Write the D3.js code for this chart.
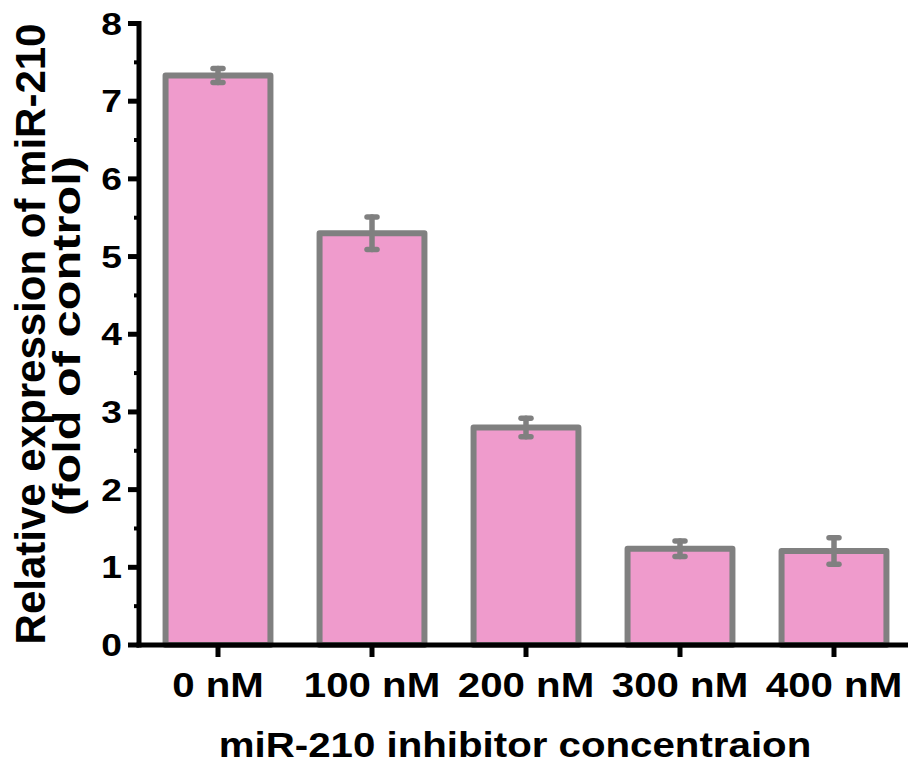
<!DOCTYPE html>
<html>
<head>
<meta charset="utf-8">
<script src="https://cdn.jsdelivr.net/npm/d3@7"></script>
<style>
  body { margin: 0; background: #fff; }
  text { font-family: "Liberation Sans", Arial, sans-serif; font-weight: bold; fill: #000; }
</style>
</head>
<body>
<svg id="chart" width="908" height="775"></svg>
<script>
const categories = ["0 nM", "100 nM", "200 nM", "300 nM", "400 nM"];
const means = [7.33, 5.30, 2.80, 1.24, 1.21];
const errors = [0.09, 0.21, 0.12, 0.10, 0.17];
const yTicks = [0, 1, 2, 3, 4, 5, 6, 7, 8];
const yMinor = [0.5, 1.5, 2.5, 3.5, 4.5, 5.5, 6.5, 7.5];

const svg = d3.select("#chart");
const stretch = 1.15;
const grey = "#808080", pink = "#ef9bcc";

const x = d3.scaleBand().domain(categories).range([141, 911]).paddingInner(0.28).paddingOuter(0.14);
const y = d3.scaleLinear().domain([0, 8]).range([645, 23.5]);

let data = categories.map((c, i) => ({ cat: c, mean: means[i], err: errors[i] }));

// bars
svg.append("g").selectAll("rect").data(data).join("rect")
    .attr("x", d => x(d.cat) + 3)
    .attr("width", x.bandwidth() - 6)
    .attr("y", d => y(d.mean))
    .attr("height", d => y(0) - y(d.mean))
    .attr("fill", pink)
    .attr("stroke", grey)
    .attr("stroke-width", 6)
    .attr("stroke-linejoin", "round");

// error bars
let eb = svg.append("g").attr("stroke", grey).attr("stroke-width", 5.5).attr("stroke-linecap", "round");
data.forEach(d => {
    let cx = x(d.cat) + x.bandwidth() / 2;
    eb.append("line").attr("x1", cx).attr("x2", cx).attr("y1", y(d.mean - d.err)).attr("y2", y(d.mean + d.err));
    [d.mean - d.err, d.mean + d.err].forEach(v => {
        eb.append("line").attr("x1", cx - 5).attr("x2", cx + 5).attr("y1", y(v)).attr("y2", y(v));
    });
});

// y axis
let yAxis = svg.append("g").attr("transform", "translate(139,0)");
yAxis.append("line").attr("x1", 0).attr("x2", 0).attr("y1", y(8) - 2.5).attr("y2", y(0) + 2.5)
    .attr("stroke", "#000").attr("stroke-width", 5);
yAxis.selectAll(".major").data(yTicks).join("line")
    .attr("x1", -11).attr("x2", 0).attr("y1", d => y(d)).attr("y2", d => y(d))
    .attr("stroke", "#000").attr("stroke-width", 5);
yAxis.selectAll(".minor").data(yMinor).join("line")
    .attr("x1", -5).attr("x2", 0).attr("y1", d => y(d)).attr("y2", d => y(d))
    .attr("stroke", "#000").attr("stroke-width", 4);
yAxis.selectAll("text").data(yTicks).join("text")
    .attr("transform", d => "translate(-17," + (y(d) + 11) + ") scale(1.2,1)")
    .attr("text-anchor", "end")
    .style("font-size", "31px")
    .text(d => d);

// x axis
let xAxis = svg.append("g");
xAxis.append("line").attr("x1", 136.5).attr("x2", 908).attr("y1", y(0)).attr("y2", y(0))
    .attr("stroke", "#000").attr("stroke-width", 5);
xAxis.selectAll(".tick").data(categories).join("line")
    .attr("x1", d => x(d) + x.bandwidth() / 2).attr("x2", d => x(d) + x.bandwidth() / 2)
    .attr("y1", y(0)).attr("y2", y(0) + 12)
    .attr("stroke", "#000").attr("stroke-width", 5);
xAxis.selectAll("text").data(categories).join("text")
    .attr("transform", d => "translate(" + (x(d) + x.bandwidth() / 2) + ",697) scale(" + stretch + ",1)")
    .attr("text-anchor", "middle")
    .style("font-size", "35px")
    .text(d => d);

// axis titles
svg.append("text")
    .attr("transform", "translate(515,757) scale(" + stretch + ",1)")
    .attr("text-anchor", "middle")
    .style("font-size", "35px")
    .text("miR-210 inhibitor concentraion");

svg.append("text")
    .attr("transform", "translate(45,334) rotate(-90)")
    .attr("text-anchor", "middle")
    .style("font-size", "42px")
    .text("Relative expression of miR-210");
svg.append("text")
    .attr("transform", "translate(80,336) rotate(-90)")
    .attr("text-anchor", "middle")
    .attr("textLength", 360)
    .attr("lengthAdjust", "spacingAndGlyphs")
    .style("font-size", "38px")
    .text("(fold of control)");
</script>
</body>
</html>
